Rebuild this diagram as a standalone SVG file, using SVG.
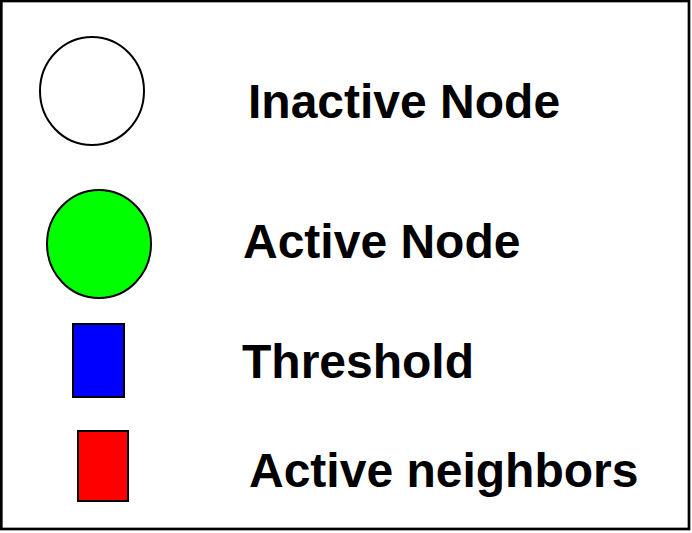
<svg xmlns="http://www.w3.org/2000/svg" width="692" height="533" viewBox="0 0 692 533">
<style>
.lbl{font-family:"Liberation Sans",Arial,sans-serif;font-weight:bold;font-size:48px;fill:#000}
.sh{stroke:#000;stroke-width:2}
</style>
<rect x="0" y="0" width="692" height="533" fill="#fff"/>
<rect x="1.3" y="1" width="687.7" height="528" fill="none" stroke="#000" stroke-width="2.7"/>
<g id="inactive-node">
<ellipse class="sh" cx="92" cy="91" rx="52" ry="54" fill="#fff"/>
<text class="lbl" x="248" y="118">Inactive Node</text>
</g>
<g id="active-node">
<ellipse class="sh" cx="99" cy="244" rx="52" ry="54" fill="#00ff00"/>
<text class="lbl" x="243" y="258">Active Node</text>
</g>
<g id="threshold">
<rect class="sh" x="73" y="324" width="51" height="73" fill="#0000ff"/>
<text class="lbl" x="242" y="378">Threshold</text>
</g>
<g id="active-neighbors">
<rect class="sh" x="78" y="431" width="50" height="70" fill="#ff0000"/>
<text class="lbl" x="249" y="487">Active neighbors</text>
</g>
<g id="connectors"/>
</svg>
